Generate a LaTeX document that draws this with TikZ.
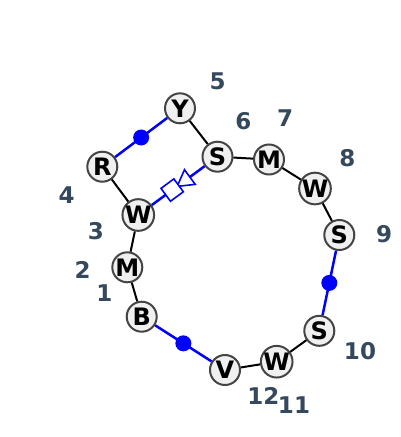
\documentclass[tikz,border=0pt]{standalone}
\usepackage{fontspec}
\setmainfont{DejaVu Sans}
\usetikzlibrary{shapes.geometric}
\definecolor{idxgray}{HTML}{34495E}
\definecolor{ringfill}{HTML}{F0F0F0}
\definecolor{ringdraw}{HTML}{444444}

\begin{document}
\begin{tikzpicture}[
    x=1pt, y=-1pt,              % Pixelkoordinaten, y nach unten
    res/.style={circle, draw=ringdraw, fill=ringfill, line width=2pt, minimum size=30pt, inner sep=0pt, font=\fontsize{24}{24}\selectfont\bfseries},
    idx/.style={text=idxgray, font=\fontsize{23}{23}\selectfont\bfseries},
    bond/.style={line width=2pt, black},
    link/.style={line width=2.5pt, blue},
    dot/.style={circle, fill=blue, minimum size=16pt, inner sep=0pt},
    tri/.style={regular polygon, regular polygon sides=3, shape border rotate=-90, draw=blue, fill=white, line width=1.6pt, inner sep=0pt, minimum size=21pt, sloped, allow upside down},
    dia/.style={rectangle, draw=blue, fill=white, line width=1.6pt, inner sep=0pt, minimum size=16pt, sloped, allow upside down}
  ]

  \useasboundingbox (0,0) rectangle (400,437);

  % Ring-Knoten
  \node[res] (res1)  at (141.7,316.7) {B};
  \node[res] (res2)  at (127.3,267.3) {M};
  \node[res] (res3)  at (138.3,215.0) {W};
  \node[res] (res4)  at (102.3,166.7) {R};
  \node[res] (res5)  at (180.0,108.3) {Y};
  \node[res] (res6)  at (217.5,156.7) {S};
  \node[res] (res7)  at (269.0,159.5) {M};
  \node[res] (res8)  at (315.0,188.5) {W};
  \node[res] (res9)  at (339.3,235.0) {S};
  \node[res] (res10) at (319.3,330.8) {S};
  \node[res] (res11) at (276.7,361.7) {W};
  \node[res] (res12) at (225.0,370.0) {V};

  % Nummern
  \node[idx] (n1)  at (104.3,293.3) {1};
  \node[idx] (n2)  at (82.7,270.0)  {2};
  \node[idx] (n3)  at (96.0,230.7)  {3};
  \node[idx] (n4)  at (66.7,195.0)  {4};
  \node[idx] (n5)  at (217.7,81.7)  {5};
  \node[idx] (n6)  at (243.3,121.0) {6};
  \node[idx] (n7)  at (285.0,118.3) {7};
  \node[idx] (n8)  at (347.3,158.3) {8};
  \node[idx] (n9)  at (384.0,234.3) {9};
  \node[idx] (n10) at (360.0,350.7) {10};
  \node[idx] (n11) at (294.0,405.0) {11};
  \node[idx] (n12) at (263.3,395.7) {12};

  % Bindungen
  \draw[bond] (res1) -- (res2);
  \draw[bond] (res2) -- (res3);
  \draw[bond] (res3) -- (res4);
  \draw[link] (res4) -- node[dot] {} (res5);
  \draw[bond] (res5) -- (res6);
  \draw[bond] (res6) -- (res7);
  \draw[bond] (res7) -- (res8);
  \draw[bond] (res8) -- (res9);
  \draw[link] (res9) -- node[dot] {} (res10);
  \draw[bond] (res10) -- (res11);
  \draw[bond] (res11) -- (res12);
  \draw[link] (res12) -- node[dot] {} (res1);
  \draw[link] (res6) -- node[pos=0.36, tri] {} node[pos=0.615, dia] {} (res3);

\end{tikzpicture}
\end{document}
